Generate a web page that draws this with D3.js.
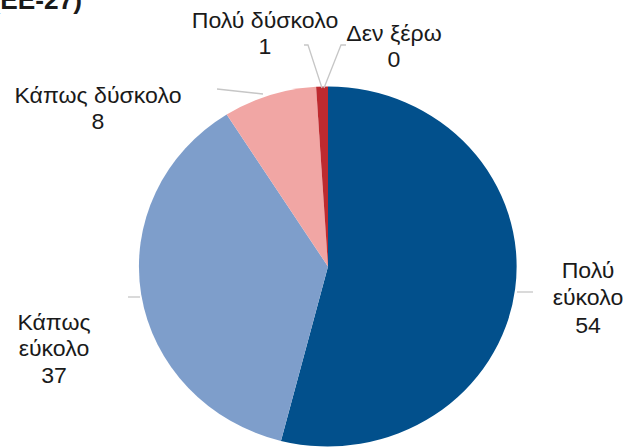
<!DOCTYPE html>
<html>
<head>
<meta charset="utf-8">
<script src="https://cdn.jsdelivr.net/npm/d3@7/dist/d3.min.js"></script>
<style>
  html, body { margin: 0; padding: 0; background: #fff; }
  svg { display: block; }
  text { font-family: "Liberation Sans", Arial, sans-serif; fill: #1a1a1a; }
</style>
</head>
<body>
<svg id="chart" width="627" height="448"></svg>
<script>
// Answer categories, values (%) and slice colours, in drawing order (clockwise from 12 o'clock)
const categories = ["Πολύ εύκολο", "Κάπως εύκολο", "Κάπως δύσκολο", "Πολύ δύσκολο", "Δεν ξέρω"];
const values = [54, 37, 8, 1, 0];
const colors = ["#02508c", "#7e9ecb", "#f1a6a4", "#be2a2f", "#8a8a8a"];
// Label text lines per category
const labelLines = [["Πολύ", "εύκολο"], ["Κάπως", "εύκολο"], ["Κάπως δύσκολο"], ["Πολύ δύσκολο"], ["Δεν ξέρω"]];
const titleText = "(ΕΕ-27)";

const svg = d3.select("#chart");
const cx = 328, cy = 266.5, rx = 189, ry = 180;
const stretch = rx / ry; // horizontal stretch of the whole figure

const pie = d3.pie().sort(null).value(d => d.value);
const data = categories.map((c, i) => ({ cat: c, value: values[i], color: colors[i], lines: labelLines[i] }));
const arcs = pie(data);

const arc = d3.arc().innerRadius(0).outerRadius(1);

// Pie drawn in a unit circle and stretched to the plot's ellipse
const g = svg.append("g").attr("transform", `translate(${cx},${cy}) scale(${rx},${ry})`);
g.selectAll("path")
  .data(arcs.filter(a => a.data.value > 0))
  .join("path")
  .attr("d", arc)
  .attr("fill", d => d.data.color);

// Point on the ellipse at a pie angle (0 = top, clockwise)
function edge(angle) {
  return [cx + rx * Math.sin(angle), cy - ry * Math.cos(angle)];
}
function mid(a) { return (a.startAngle + a.endAngle) / 2; }

// Label placement per category: centre x, first baseline, line step and leader line
const labelPos = [
  { x: 588, y: 278, step: 27.5, lead: [[533, 292]], start: [517, 292] },
  { x: 54, y: 330, step: 26.5, lead: [[128, 297]], start: [140, 297] },
  { x: 98, y: 103, step: 26, lead: [[217, 89]], start: [263, 94] },
  { x: 265, y: 28, step: 26, lead: [[308, 45], [304, 45]], start: [322, 88] },
  { x: 394, y: 41, step: 26, lead: [[341, 45], [346, 45]], start: [324, 88] }
];

const line = d3.line();
arcs.forEach((a, i) => {
  const p = labelPos[i];
  const start = p.start || edge(mid(a));
  svg.append("path")
    .attr("d", line([start, ...p.lead]))
    .attr("fill", "none")
    .attr("stroke", "#c6c6c6")
    .attr("stroke-width", 1.3);

  const lines = [...a.data.lines, String(a.data.value)];
  const t = svg.append("text")
    .attr("transform", `translate(${p.x},${p.y}) scale(${stretch},1)`)
    .attr("text-anchor", "middle")
    .attr("font-size", 22);
  lines.forEach((s, k) => {
    t.append("tspan")
      .attr("x", 0)
      .attr("y", k * p.step)
      .text(s);
  });
});

// Heading, running off the top-left corner
svg.append("text")
  .attr("transform", `translate(82,9) scale(${stretch},1)`)
  .attr("text-anchor", "end")
  .attr("font-size", 25)
  .attr("font-weight", "bold")
  .text(titleText);
</script>
</body>
</html>
